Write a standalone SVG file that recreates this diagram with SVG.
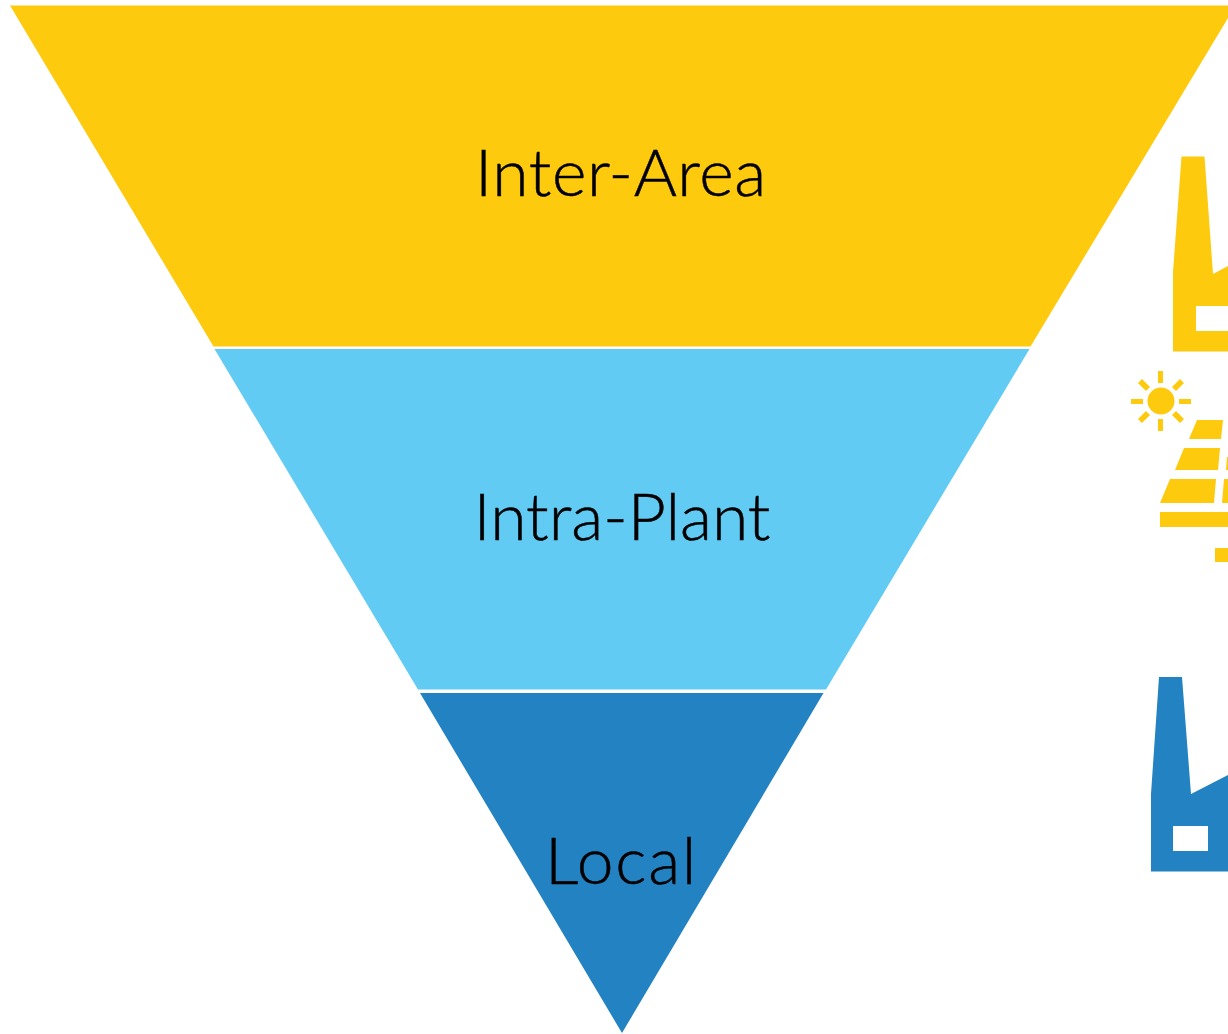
<svg xmlns="http://www.w3.org/2000/svg" width="1228" height="1034" viewBox="0 0 1228 1034">
<style>
.lbl{font-family:"Lato","Open Sans",sans-serif;font-size:66px;font-weight:300;fill:#000;stroke:#000;stroke-width:0.5px;text-anchor:middle}
.y{fill:#fdca0d}.b{fill:#2382c1}.w{fill:#fff}
</style>
<rect width="1228" height="1034" fill="#fff"/>
<g id="tier-inter-area"><polygon class="y" points="10,5.500 1228,5.500 1228,18 1030.500,346.500 213.500,346.500"/><text class="lbl" x="621" y="196" letter-spacing="0.6">Inter-Area</text></g>
<g id="tier-intra-plant"><polygon fill="#62cbf4" points="214.500,349 1029.500,349 826,689.500 418,689.500"/><text class="lbl" x="622" y="540">Intra-Plant</text></g>
<g id="tier-local"><polygon class="b" points="420,693 823.500,693 622,1033"/><text class="lbl" x="621.500" y="884" letter-spacing="1.7">Local</text></g>
<g id="icon-factory-yellow"><path class="y" d="M1181.500,156.500H1204.500L1213,274L1228,266V351.500H1173V272Z"/><rect class="w" x="1196" y="306" width="32" height="25"/></g>
<g id="icon-solar" class="y">
<circle cx="1161" cy="401" r="13.500"/>
<rect x="1158" y="371" width="5" height="12"/><rect x="1158" y="419" width="5" height="12"/><rect x="1131" y="399" width="12" height="5"/><rect x="1179" y="399" width="12" height="5"/>
<path d="M1142,379L1150,387L1146,391L1138,383ZM1180,379L1184,383L1176,391L1172,387ZM1146,411L1150,415L1142,423L1138,419ZM1176,411L1184,419L1180,423L1172,415Z"/>
<path d="M1197,420H1223L1221,439H1189ZM1184,448H1220L1218,470H1175ZM1170,479H1216L1214,503H1160ZM1228,457V470H1226L1227,457ZM1228,479V503H1222L1224,479Z"/>
<rect x="1160" y="512" width="68" height="15"/><rect x="1215" y="548" width="13" height="14"/>
</g>
<g id="icon-factory-blue"><path class="b" d="M1159,677H1182L1191,794L1228,775V871.500H1151V794Z"/><rect class="w" x="1173" y="826" width="35" height="25"/></g>
</svg>
